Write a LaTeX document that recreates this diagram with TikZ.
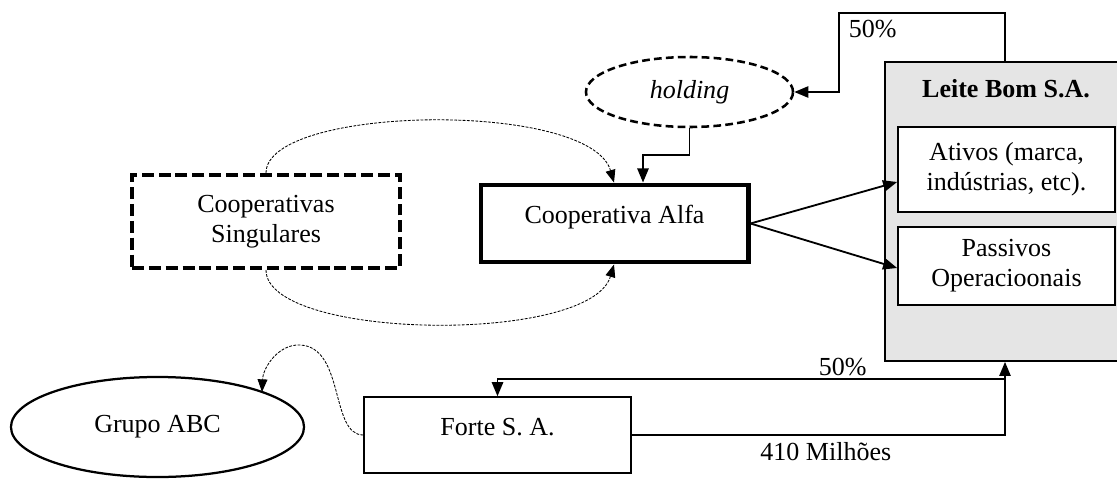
\documentclass[tikz,border=0pt]{standalone}
\usepackage{fontspec}
\setmainfont{Liberation Serif}
\usepackage{tikz}
\usetikzlibrary{arrows.meta,positioning,shapes,calc}
\definecolor{lightgrey}{RGB}{229,229,229}

\begin{document}
\begin{tikzpicture}[x=0.025cm, y=-0.025cm,
        every node/.style={font=\fontsize{18.5}{21.5}\selectfont, align=center},
        box/.style={draw, line width=1.2pt, rectangle, inner sep=2pt},
        midtext/.style={text height=14pt, text depth=14pt},
        conn/.style={line width=1.3pt, -{Triangle[length=10pt,width=8pt]}},
        dotconn/.style={line width=0.6pt, dash pattern=on 2pt off 1pt, -{Triangle[length=9pt,width=7pt]}}]
        \useasboundingbox (0,0) rectangle (1117,480);
        % Leite Bom
        \node[box, fill=lightgrey, minimum width=6cm, minimum height=7.475cm] (leite) at (1005,211.5) {};
        \node[anchor=base, font=\fontsize{18.5}{21.5}\selectfont\bfseries] (leitenome) at (1006,97) {Leite Bom S.A.};
        \node[box, fill=white, minimum width=5.425cm, minimum height=2.125cm] (ativos) at (1006.5,169.5) {Ativos (marca,\\ indústrias, etc).};
        \node[box, fill=white, minimum width=5.425cm, minimum height=1.95cm] (passivos) at (1006.5,266) {Passivos\\ Operacioonais};
        % Cooperativas
        \node[box, line width=2.8pt, dash pattern=on 8.5pt off 3.5pt, minimum width=6.7cm, minimum height=2.325cm] (singulares) at (266,221.5) {Cooperativas\\ Singulares};
        \node[box, midtext, line width=3.5pt, minimum width=6.675cm, minimum height=1.925cm] (alfa) at (614.5,223.5) {Cooperativa Alfa};
        \node[draw, ellipse, line width=1.8pt, dash pattern=on 5.5pt off 3pt, minimum width=5.175cm, minimum height=1.75cm, inner sep=0pt, font=\fontsize{18.5}{21.5}\selectfont\itshape] (holding) at (689.5,92) {holding};
        % Forte / Grupo ABC
        \node[box, midtext, line width=1pt, minimum width=6.675cm, minimum height=1.9cm] (forte) at (497.5,435) {Forte S. A.};
        \node[draw, ellipse, line width=1.6pt, minimum width=7.325cm, minimum height=2.5cm, inner sep=0pt] (abc) at (157.5,427) {Grupo ABC};
        % connectors
        \coordinate (topo) at (839,13);
        \coordinate (juncao) at (1005,379);
        \draw[conn] (leite.north) |- (topo) node[below right=1pt and 3pt] (pct1) {50\%} |- (holding.east);
        \draw[conn] (holding.south) |- ($(holding.south)!0.5!(alfa.north -| 643,0)$) -| (alfa.north -| 643,0);
        \draw[conn] (alfa.east) -- (ativos.west |- 0,182);
        \draw[conn] (alfa.east) -- (passivos.west |- 0,268);
        \draw[conn] (forte.east) -| (leite.south) node[pos=0.26, below=1pt] (valor) {410 Milhões};
        \draw[conn] (juncao) -| (forte.north) node[pos=0.16, above=-2pt] (pct2) {50\%};
        \draw[dotconn] (singulares.north) .. controls (266,105) and (590,100) .. (alfa.north -| 614,0);
        \draw[dotconn] (singulares.south) .. controls (266,340) and (590,345) .. (alfa.south -| 614,0);
        \draw[dotconn] (forte.west) .. controls (330,435) and (345,347) .. (300,345) .. controls (278,344) and (263,368) .. (262,392);
\end{tikzpicture}
\end{document}
